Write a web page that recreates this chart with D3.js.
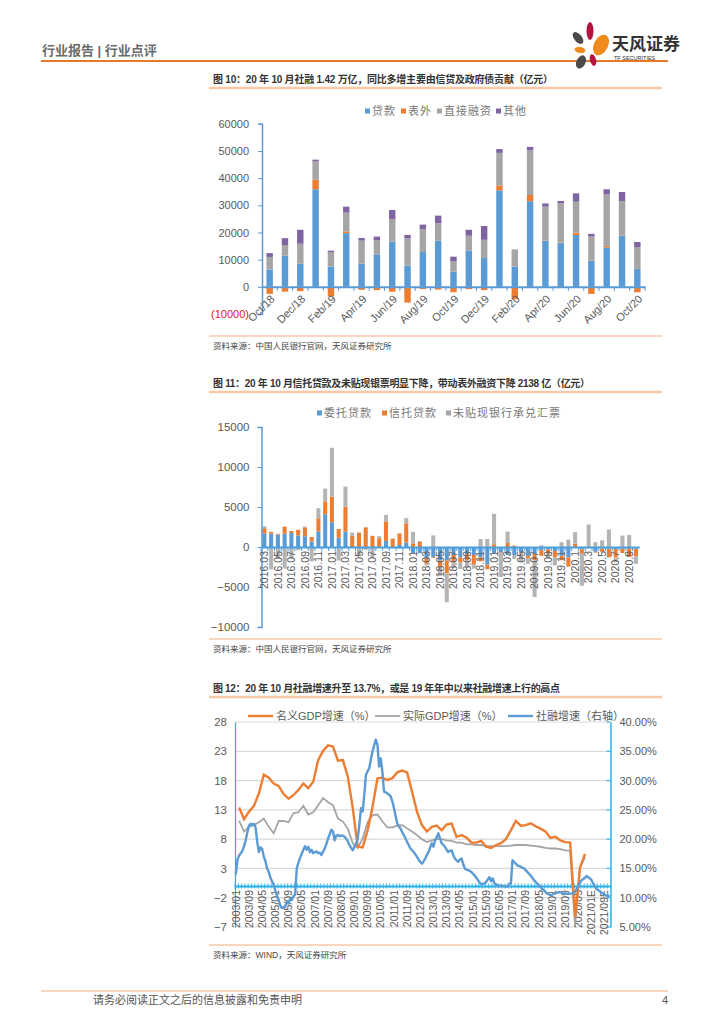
<!DOCTYPE html>
<html><head><meta charset="utf-8">
<script src="https://cdn.jsdelivr.net/npm/d3@7"></script>
<style>
body{margin:0;background:#fff;}
svg{display:block;font-family:"Liberation Sans","Noto Sans CJK SC",sans-serif;}
</style></head><body>
<svg id="page" width="724" height="1024"></svg>
<script>
// ================= DATA =================
// Chart 1 (图10)
const c1Months = ["Oct/18","Nov/18","Dec/18","Jan/19","Feb/19","Mar/19","Apr/19","May/19","Jun/19","Jul/19","Aug/19","Sep/19","Oct/19","Nov/19","Dec/19","Jan/20","Feb/20","Mar/20","Apr/20","May/20","Jun/20","Jul/20","Aug/20","Sep/20","Oct/20"];
const c1Series = ["贷款","表外","直接融资","其他"];
const c1Loans      = [6340,11460,8540,35900,7440,19750,8540,11950,16700,7800,12800,16950,5600,13400,10600,35500,7440,31500,16950,16100,19100,9600,14500,18800,6600];
const c1OffBalance = [-2600,-1800,-1600,3500,-3500,650,-1100,-1200,-1800,-5800,-850,-1000,-2000,-850,-1200,1800,-4600,2300,100,200,900,-2600,600,150,-2000];
const c1Direct     = [4660,3910,7310,6750,5360,6900,8460,5120,8300,10000,8500,6450,3900,5400,6700,12000,6220,16400,12450,14400,11300,8900,18900,12650,7900];
const c1Other      = [1400,2530,5150,650,500,2200,1000,1430,3300,1300,1600,2800,1600,2200,5100,1400,100,1300,1200,900,3100,1000,1900,3300,2000];
const c1YTicks = [-10000,0,10000,20000,30000,40000,50000,60000];

// Chart 2 (图11)
const c2Months = ["2016.03","2016.04","2016.05","2016.06","2016.07","2016.08","2016.09","2016.10","2016.11","2016.12",
 "2017.01","2017.02","2017.03","2017.04","2017.05","2017.06","2017.07","2017.08","2017.09","2017.10","2017.11","2017.12",
 "2018.01","2018.02","2018.03","2018.04","2018.05","2018.06","2018.07","2018.08","2018.09","2018.10","2018.11","2018.12",
 "2019.01","2019.02","2019.03","2019.04","2019.05","2019.06","2019.07","2019.08","2019.09","2019.10","2019.11","2019.12",
 "2020.1","2020.2","2020.3","2020.4","2020.5","2020.6","2020.7","2020.8","2020.9","2020.10"];
const c2Series = ["委托贷款","信托贷款","未贴现银行承兑汇票"];
const c2Entrusted = [1650,1650,1550,1650,1750,1450,1350,700,1950,4100,
 3100,1150,1950,-50,-150,-50,0,0,750,0,
 250,550,-750,-800,-1450,-1250,-1700,-1700,-1000,-1300,
 -900,-1000,-1300,-2200,-750,-700,-1000,-1000,-700,-1100,
 -900,-400,-300,-500,-1100,-1300,-50,-300,-100,-600,
 -200,-200,-270,-200,-150,-200];
const c2Trust = [700,250,100,900,250,700,1100,550,1650,1600,
 3200,1100,3100,1400,1800,2450,1400,1100,2450,1050,
 1450,2400,450,650,-650,-100,-850,-1600,-900,-650,
 -800,-1200,-500,-570,350,-50,500,170,-100,-300,
 -750,-700,-500,-800,-550,-1150,420,-550,-50,-100,
 -400,-1100,-1050,-550,-1100,-1000];
const c2Bills = [250,-2800,-1500,-2700,-1400,-400,100,-1800,1250,1600,
 6100,-1700,2500,400,-1000,-300,-1300,250,800,0,
 -200,650,1450,100,-200,1450,-1050,-3600,-700,-800,
 -850,-500,1000,1000,3800,-3000,1430,-500,-1100,-700,
 -4600,200,-600,-1000,600,920,1430,-4000,2800,600,
 840,2180,-600,1430,1500,-900];
const c2YTicks = [-10000,-5000,0,5000,10000,15000];

// Chart 3 (图12)
const c3TickLabels = ["2003/01","2003/09","2004/05","2005/01","2005/09","2006/05","2007/01","2007/09","2008/05","2009/01","2009/09","2010/05","2011/01","2011/09","2012/05","2013/01","2013/09","2014/05","2015/01","2015/09","2016/05","2017/01","2017/09","2018/05","2019/01","2019/09","2020/05","2021/01E","2021/09E"];
const c3Series = ["名义GDP增速（%）","实际GDP增速（%）","社融增速（右轴）"];
// quarterly, 2003Q1 .. 2020Q3 (left axis)
const nominalGDP = [13.4,11.4,12.7,13.7,15.8,19.0,18.5,17.5,17.1,15.7,14.9,15.5,16.4,17.5,16.7,17.8,21.5,23.1,24.0,23.8,21.4,21.5,18.7,13.3,6.7,6.6,9.5,13.5,18.4,18.5,18.1,18.4,19.4,19.7,19.4,16.1,12.7,10.4,
 9.3,10.1,10.3,9.5,10.5,10.7,8.4,8.7,8.3,7.4,7.4,7.7,6.7,6.5,7.0,7.3,8.0,9.5,11.1,10.3,10.4,10.7,10.2,9.8,9.3,8.2,8.4,7.8,7.5,7.4,-5.3,3.1,5.5];
const realGDP = [11.1,9.3,10.1,10.4,10.9,11.5,10.1,9.0,11.1,11.1,10.9,12.4,12.6,13.7,12.2,12.6,13.8,15.0,14.3,13.8,11.5,11.0,9.8,7.3,6.5,8.1,10.9,12.1,12.2,11.0,10.0,10.0,10.3,10.4,9.8,9.3,8.7,8.0,
 7.5,7.8,8.0,8.0,7.8,7.7,7.4,7.4,7.1,7.1,7.0,7.0,6.8,6.8,6.8,6.8,6.8,6.9,7.0,7.0,7.0,6.9,6.8,6.7,6.5,6.4,6.4,6.3,6.1,6.0,-6.8,3.2,4.9];
// monthly, 2003/01 .. 2021/12 (right axis, %)
const tsfGrowth = [
 14.0,16.5,17.2,17.6,18.0,18.8,19.8,21.2,22.3,22.6,22.5,22.6,
 22.0,19.5,17.8,18.6,18.3,17.0,16.2,15.0,14.4,13.4,12.8,12.2,
 11.2,10.3,9.6,8.7,8.2,8.4,8.5,9.3,9.0,9.8,9.6,10.3,
 10.5,15.0,16.0,16.8,17.5,18.2,18.8,18.2,18.7,17.8,18.2,17.6,
 17.8,17.9,17.6,17.7,17.3,17.9,18.4,19.2,20.1,20.8,21.6,21.3,
 19.8,20.6,20.7,20.5,20.6,20.6,20.4,20.1,19.6,19.0,18.5,18.1,
 18.7,19.2,20.1,22.4,25.3,24.7,27.5,31.0,31.6,32.1,33.6,35.0,
 36.0,37.0,36.1,32.4,33.8,31.5,28.1,28.0,27.8,27.6,27.3,26.5,
 25.3,24.0,22.7,22.2,21.8,21.2,20.7,20.1,19.5,19.0,18.4,18.1,
 17.8,17.4,17.0,16.5,16.1,15.8,16.2,16.7,17.3,17.8,18.6,19.3,
 18.7,19.8,20.3,21.0,20.1,19.3,19.0,18.7,18.2,17.8,18.0,18.1,
 17.3,16.7,16.4,16.1,16.5,16.7,15.8,15.0,14.8,14.7,14.6,14.4,
 14.1,13.8,13.4,13.0,12.6,12.3,12.4,12.4,12.7,13.1,13.5,12.8,
 13.3,12.4,12.3,12.1,12.0,12.1,12.0,12.0,11.9,12.0,12.4,12.4,
 16.4,16.1,15.8,15.5,15.4,15.3,15.1,15.0,14.7,14.4,14.1,13.8,
 13.4,13.0,12.7,12.4,12.1,11.8,11.5,11.3,11.0,10.7,10.6,10.4,
 10.5,10.7,10.8,10.9,10.9,11.0,10.8,10.7,10.7,10.7,10.7,10.7,
 10.7,10.8,11.0,11.5,12.1,12.6,13.0,13.2,13.4,13.7,13.5,13.3,
 13.0,12.4,12.0,11.5,11.3,11.1,10.9,10.7,10.5,10.4,10.3,10.3];
const c3LeftTicks = [-7,-2,3,8,13,18,23,28];
const c3RightTicks = [5,10,15,20,25,30,35,40];

// ================= DRAWING =================
const svg = d3.select("#page");
const GRAY = "#595959";
const BLUE = "#5B9BD5", ORANGE = "#ED7D31", LGRAY = "#A5A5A5", PURPLE = "#8064A2";
const AXBLUE = "#4A9FDC", CYAN = "#27B0EA";
const PEACH = "#F7C9A6";

// ---- header ----
svg.append("text").attr("x",42).attr("y",55).attr("font-size",13).attr("font-weight",700)
  .attr("fill","#6b6b6b").text("行业报告 | 行业点评");
svg.append("line").attr("x1",41).attr("x2",668).attr("y1",61).attr("y2",61)
  .attr("stroke","#E8792A").attr("stroke-width",2);
const logo = svg.append("g");
[[590,31,3.5,9,0,"#B5123F"],[601,45,7,11,28,"#F08A1C"],[578,38,3.8,7,-40,"#4a4a4a"],
 [580,50,5.5,3,10,"#F08A1C"],[581,62,4.5,7,25,"#4a4a4a"],[593,60,3,6,-15,"#B5123F"]]
 .forEach(p=>logo.append("ellipse").attr("cx",p[0]).attr("cy",p[1]).attr("rx",p[2]).attr("ry",p[3])
   .attr("transform",`rotate(${p[4]},${p[0]},${p[1]})`).attr("fill",p[5]));
svg.append("text").attr("x",612).attr("y",50).attr("font-size",17).attr("font-weight",700)
  .attr("fill","#333").text("天风证券");
svg.append("text").attr("x",614).attr("y",60).attr("font-size",5.5).attr("fill","#333").text("TF SECURITIES");

function title(y, txt, len){
  svg.append("text").attr("x",213).attr("y",y+4).attr("font-size",10).attr("font-weight",700)
    .attr("fill","#333").attr("textLength",len).text(txt);
  svg.append("line").attr("x1",209).attr("x2",662).attr("y1",y+9).attr("y2",y+9)
    .attr("stroke",PEACH).attr("stroke-width",2.5);
}
function source(y, txt){
  svg.append("line").attr("x1",209).attr("x2",662).attr("y1",y-10).attr("y2",y-10)
    .attr("stroke",PEACH).attr("stroke-width",1.5);
  svg.append("text").attr("x",213).attr("y",y+3).attr("font-size",8.5).attr("fill","#444").text(txt);
}
function sqLegend(items, colors, y){
  items.forEach((t,i)=>{
    svg.append("rect").attr("x",t.x).attr("y",y-2.5).attr("width",5).attr("height",5).attr("fill",colors[i]);
    svg.append("text").attr("x",t.x+7).attr("y",y+4).attr("font-size",11).attr("fill","#777")
      .attr("letter-spacing",1).text(t.name);
  });
}

// ============ Chart 1 ============
title(79, "图 10：20 年 10 月社融 1.42 万亿，同比多增主要由信贷及政府债贡献（亿元）", 340);
sqLegend([{x:365,name:c1Series[0]},{x:401,name:c1Series[1]},{x:437,name:c1Series[2]},{x:496,name:c1Series[3]}],
  [BLUE,ORANGE,LGRAY,PURPLE],111);
{
  const g = svg.append("g");
  const x = d3.scaleBand().domain(c1Months).range([262,645]).paddingInner(0.58).paddingOuter(0.29);
  const y = d3.scaleLinear().domain([-10000,60000]).range([314,123.8]);
  const rows = c1Months.map((m,i)=>({m, "贷款":c1Loans[i],"表外":c1OffBalance[i],"直接融资":c1Direct[i],"其他":c1Other[i]}));
  const st = d3.stack().keys(c1Series).offset(d3.stackOffsetDiverging)(rows);
  const cols = [BLUE,ORANGE,LGRAY,PURPLE];
  g.selectAll("g.s").data(st).join("g").attr("fill",(d,i)=>cols[i])
    .selectAll("rect").data(d=>d).join("rect")
    .attr("x",d=>x(d.data.m)).attr("width",x.bandwidth())
    .attr("y",d=>y(Math.max(d[0],d[1]))).attr("height",d=>Math.abs(y(d[0])-y(d[1])));
  const ya = g.append("g").attr("transform","translate(262,0)")
    .call(d3.axisLeft(y).tickValues(c1YTicks).tickSize(4).tickPadding(9)
      .tickFormat(v=>v<0?`(${-v})`:String(v)));
  ya.select(".domain").attr("stroke",BLUE).attr("stroke-width",1.5);
  ya.selectAll(".tick line").attr("stroke",BLUE);
  ya.selectAll("text").attr("font-size",11).attr("fill",d=>d<0?"#E02020":GRAY)
    .attr("font-family","Liberation Sans");
  const xa = g.append("g").attr("transform",`translate(0,${y(0)})`)
    .call(d3.axisBottom(x).tickValues(c1Months.filter((d,i)=>i%2===0)).tickSize(0).tickSizeOuter(0));
  xa.select(".domain").attr("stroke",BLUE).attr("stroke-width",2);
  xa.selectAll("text").attr("x",0).attr("y",0).attr("dy","0.35em")
    .attr("transform","translate(3,10) rotate(-45)").style("text-anchor","end")
    .attr("font-size",11).attr("fill",GRAY).attr("font-family","Liberation Sans");
  g.selectAll("line.bt").data(c1Months).join("line").attr("class","bt")
    .attr("x1",d=>x(d)-x.step()*x.paddingInner()/2+x.step()).attr("x2",d=>x(d)-x.step()*x.paddingInner()/2+x.step())
    .attr("y1",y(0)).attr("y2",y(0)+4).attr("stroke",BLUE);
}
source(346, "资料来源：中国人民银行官网，天风证券研究所");

// ============ Chart 2 ============
title(383, "图 11：20 年 10 月信托贷款及未贴现银票明显下降，带动表外融资下降 2138 亿（亿元）", 377);
sqLegend([{x:317,name:c2Series[0]},{x:382,name:c2Series[1]},{x:446,name:c2Series[2]}],[BLUE,ORANGE,LGRAY],413);
{
  const g = svg.append("g");
  const x = d3.scaleBand().domain(c2Months).range([261,639.3]).paddingInner(0.4).paddingOuter(0.2);
  const y = d3.scaleLinear().domain([-10000,15000]).range([627,427]);
  const rows = c2Months.map((m,i)=>({m,"委托贷款":c2Entrusted[i],"信托贷款":c2Trust[i],"未贴现银行承兑汇票":c2Bills[i]}));
  const st = d3.stack().keys(c2Series).offset(d3.stackOffsetDiverging)(rows);
  const cols = [BLUE,ORANGE,"#B4B4B4"];
  g.selectAll("g.s").data(st).join("g").attr("fill",(d,i)=>cols[i])
    .selectAll("rect").data(d=>d).join("rect")
    .attr("x",d=>x(d.data.m)).attr("width",x.bandwidth())
    .attr("y",d=>y(Math.max(d[0],d[1]))).attr("height",d=>Math.abs(y(d[0])-y(d[1])));
  const ya = g.append("g").attr("transform","translate(261.5,0)")
    .call(d3.axisLeft(y).tickValues(c2YTicks).tickSize(4).tickPadding(8).tickFormat(d3.format("d")));
  ya.select(".domain").attr("stroke",BLUE).attr("stroke-width",1.5);
  ya.selectAll(".tick line").attr("stroke",BLUE);
  ya.selectAll("text").attr("font-size",11.5).attr("fill",GRAY).attr("font-family","Liberation Sans");
  const xa = g.append("g").attr("transform",`translate(0,${y(0)})`)
    .call(d3.axisBottom(x).tickValues(c2Months.filter((d,i)=>i%2===0)).tickSize(0).tickSizeOuter(0));
  xa.select(".domain").attr("stroke",AXBLUE).attr("stroke-width",2);
  xa.selectAll("text").attr("x",0).attr("y",0).attr("dy","0.35em")
    .attr("transform","translate(0,4) rotate(-90)").style("text-anchor","end")
    .attr("font-size",10.5).attr("fill",GRAY).attr("font-family","Liberation Sans");
  g.selectAll("line.bt").data(c2Months).join("line").attr("class","bt")
    .attr("x1",d=>x(d)-x.step()*x.paddingInner()/2).attr("x2",d=>x(d)-x.step()*x.paddingInner()/2)
    .attr("y1",y(0)).attr("y2",y(0)+4).attr("stroke",AXBLUE);
}
source(649, "资料来源：中国人民银行官网，天风证券研究所");

// ============ Chart 3 ============
title(688, "图 12：20 年 10 月社融增速升至 13.7%，或是 19 年年中以来社融增速上行的高点", 347);
{
  const g = svg.append("g");
  const months = [];
  for (let yr=2003; yr<=2021; yr++) for (let mo=1; mo<=12; mo++) months.push(`${yr}/${String(mo).padStart(2,"0")}`);
  const x = d3.scaleBand().domain(months).range([235,610.5]).padding(0);
  const cx = m => x(m) + x.bandwidth()/2;
  const yL = d3.scaleLinear().domain([-7,28]).range([927,722]);
  const yR = d3.scaleLinear().domain([5,40]).range([927,722]);
  // gridlines
  g.selectAll("line.gr").data(c3LeftTicks).join("line").attr("class","gr")
    .attr("x1",235).attr("x2",610.5).attr("y1",d=>yL(d)).attr("y2",d=>yL(d))
    .attr("stroke","#D9D9D9").attr("stroke-width",1.2);
  // axes
  const yla = g.append("g").attr("transform","translate(235,0)")
    .call(d3.axisLeft(yL).tickValues(c3LeftTicks).tickSize(0).tickPadding(8));
  yla.select(".domain").attr("stroke",AXBLUE).attr("stroke-width",1.2);
  yla.selectAll("text").attr("font-size",11.5).attr("fill",GRAY).attr("font-family","Liberation Sans");
  const yra = g.append("g").attr("transform","translate(610.5,0)")
    .call(d3.axisRight(yR).tickValues(c3RightTicks).tickSize(0).tickPadding(9).tickFormat(v=>v.toFixed(2)+"%"));
  yra.select(".domain").attr("stroke",CYAN).attr("stroke-width",1.5);
  yra.selectAll("text").attr("font-size",11).attr("fill",GRAY).attr("font-family","Liberation Sans");
  g.selectAll("line.rt").data(c3RightTicks).join("line").attr("class","rt")
    .attr("x1",606.5).attr("x2",610.5).attr("y1",d=>yR(d)).attr("y2",d=>yR(d)).attr("stroke",CYAN);
  const tickMonths = c3TickLabels.map((t,i)=>months[i*8]);
  const xa = g.append("g").attr("transform",`translate(0,${yL(0)})`)
    .call(d3.axisBottom(x).tickValues(tickMonths).tickSize(0).tickSizeOuter(0)
      .tickFormat((d,i)=>c3TickLabels[i]));
  xa.select(".domain").attr("stroke",CYAN).attr("stroke-width",1.8);
  xa.selectAll("text").attr("x",0).attr("y",0).attr("dy","0.35em")
    .attr("transform","translate(0,4) rotate(-90)").style("text-anchor","end")
    .attr("font-size",10.5).attr("fill",GRAY).attr("font-family","Liberation Sans");
  g.selectAll("line.bt").data(months.filter((d,i)=>i%2===0)).join("line").attr("class","bt")
    .attr("x1",d=>x(d)).attr("x2",d=>x(d)).attr("y1",yL(0)-2.5).attr("y2",yL(0)+2.5)
    .attr("stroke",CYAN).attr("stroke-width",0.9);
  // lines
  const qMonth = k => months[2+3*k];
  const lineL = d3.line().x((d,k)=>cx(qMonth(k))).y(d=>yL(d));
  g.append("path").datum(realGDP).attr("d",lineL).attr("fill","none").attr("stroke",LGRAY).attr("stroke-width",1.8);
  g.append("path").datum(nominalGDP).attr("d",lineL).attr("fill","none").attr("stroke",ORANGE).attr("stroke-width",2.4);
  const lineR = d3.line().x((d,i)=>cx(months[i])).y(d=>yR(d));
  g.append("path").datum(tsfGrowth).attr("d",lineR).attr("fill","none").attr("stroke",BLUE).attr("stroke-width",2.4)
    .attr("stroke-linejoin","round");
  // legend
  const lg = [{x:248,c:ORANGE,w:2.4},{x:375,c:LGRAY,w:1.8},{x:508,c:BLUE,w:2.4}];
  lg.forEach((l,i)=>{
    svg.append("line").attr("x1",l.x).attr("x2",l.x+25).attr("y1",716).attr("y2",716)
      .attr("stroke",l.c).attr("stroke-width",l.w);
    svg.append("text").attr("x",l.x+28).attr("y",720).attr("font-size",11).attr("fill",GRAY).text(c3Series[i]);
  });
}
source(955, "资料来源：WIND，天风证券研究所");

// ---- footer ----
svg.append("line").attr("x1",41).attr("x2",668).attr("y1",991).attr("y2",991).attr("stroke",PEACH).attr("stroke-width",1.5);
svg.append("text").attr("x",93).attr("y",1004).attr("font-size",11).attr("fill","#555").text("请务必阅读正文之后的信息披露和免责申明");
svg.append("text").attr("x",662).attr("y",1004).attr("font-size",11).attr("fill","#555").text("4");
</script>
</body></html>
